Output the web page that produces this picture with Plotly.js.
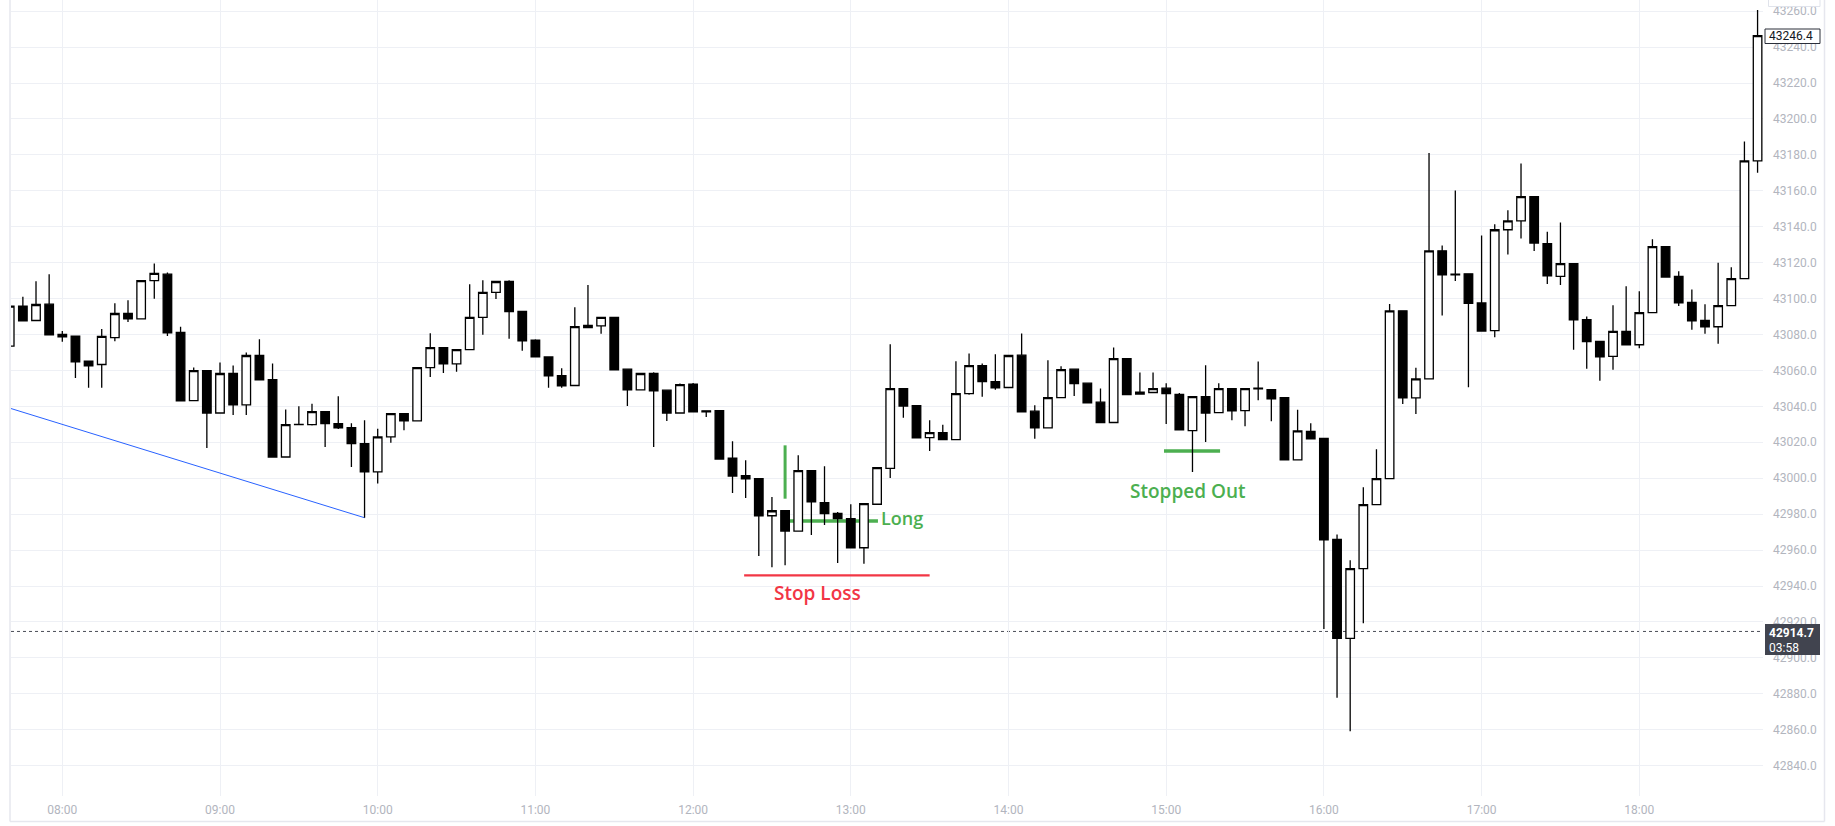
<!DOCTYPE html>
<html>
<head>
<meta charset="utf-8">
<script src="https://cdn.plot.ly/plotly-3.0.1.min.js"></script>
<style>
  html, body { margin: 0; padding: 0; background: #ffffff; }
  #chart { width: 1835px; height: 826px; }
</style>
</head>
<body>
<div id="chart"></div>
<script>
// ---- data (5-minute candles) ----
const DAY = '2024-01-15 ';
const times = [
 '07:40','07:45','07:50','07:55','08:00','08:05','08:10','08:15','08:20','08:25','08:30','08:35',
 '08:40','08:45','08:50','08:55','09:00','09:05','09:10','09:15','09:20','09:25','09:30','09:35',
 '09:40','09:45','09:50','09:55','10:00','10:05','10:10','10:15','10:20','10:25','10:30','10:35',
 '10:40','10:45','10:50','10:55','11:00','11:05','11:10','11:15','11:20','11:25','11:30','11:35',
 '11:40','11:45','11:50','11:55','12:00','12:05','12:10','12:15','12:20','12:25','12:30','12:35',
 '12:40','12:45','12:50','12:55','13:00','13:05','13:10','13:15','13:20','13:25','13:30','13:35',
 '13:40','13:45','13:50','13:55','14:00','14:05','14:10','14:15','14:20','14:25','14:30','14:35',
 '14:40','14:45','14:50','14:55','15:00','15:05','15:10','15:15','15:20','15:25','15:30','15:35',
 '15:40','15:45','15:50','15:55','16:00','16:05','16:10','16:15','16:20','16:25','16:30','16:35',
 '16:40','16:45','16:50','16:55','17:00','17:05','17:10','17:15','17:20','17:25','17:30','17:35',
 '17:40','17:45','17:50','17:55','18:00','18:05','18:10','18:15','18:20','18:25','18:30','18:35',
 '18:40','18:45'
];
const open = [
 43073.5,43095.8,43087.8,43096.9,43080.0,43079.1,43065.1,43063.3,43078.3,43091.7,43088.7,43110.0,
 43113.6,43081.1,43043.2,43059.9,43036.3,43058.3,43040.8,43068.3,43054.9,43011.8,43029.8,43029.8,
 43037.1,43030.4,43028.2,43019.3,43003.5,43023.0,43036.0,43031.9,43061.6,43072.7,43063.6,43071.6,
 43089.5,43103.4,43109.5,43092.8,43076.8,43067.5,43057.1,43051.6,43083.9,43084.8,43089.5,43060.7,
 43049.2,43058.4,43049.0,43036.3,43052.3,43037.5,43037.6,43011.1,43001.4,42999.8,42979.1,42981.9,
 42970.6,43004.2,42986.4,42980.4,42977.5,42961.3,42985.5,43005.5,43049.9,43040.4,43022.6,43025.4,
 43021.5,43047.1,43062.7,43053.8,43050.5,43068.5,43037.3,43028.0,43044.9,43060.7,43052.9,43042.3,
 43031.0,43066.6,43046.8,43047.7,43050.1,43046.7,43026.5,43045.4,43036.5,43049.9,43037.6,43050.2,
 43049.3,43044.9,43010.2,43026.0,43022.1,42965.9,42910.8,42949.7,42985.3,42999.8,43093.2,43044.7,
 43055.3,43126.6,43113.2,43113.8,43097.6,43082.1,43138.3,43143.3,43156.7,43130.6,43112.4,43119.4,
 43088.3,43076.1,43067.8,43081.7,43074.3,43092.2,43128.9,43112.4,43097.8,43087.8,43084.3,43096.1,
 43111.1,43176.7
];
const high = [
 43114.0,43101.0,43109.7,43113.6,43082.0,43079.1,43065.1,43083.0,43097.4,43099.1,43110.0,43119.5,
 43114.5,43084.3,43061.6,43059.9,43064.4,43062.7,43070.0,43077.4,43063.8,43038.2,43040.0,43041.5,
 43037.1,43045.6,43030.6,43032.3,43027.6,43036.0,43036.0,43061.6,43080.7,43072.7,43071.6,43108.0,
 43110.2,43109.5,43110.2,43092.8,43077.4,43067.5,43061.2,43095.2,43107.5,43089.5,43089.5,43060.7,
 43058.3,43059.0,43049.0,43052.7,43053.0,43037.5,43037.6,43020.6,43010.0,42999.8,42989.5,42981.9,
 43012.8,43004.2,43006.6,42981.2,42985.5,42985.8,43005.9,43074.6,43049.9,43040.4,43032.3,43029.7,
 43065.1,43069.4,43063.8,43069.0,43068.3,43080.5,43040.6,43065.7,43062.3,43061.0,43052.9,43049.9,
 43072.7,43066.6,43058.8,43058.8,43052.9,43047.5,43045.4,43062.9,43052.9,43049.9,43049.9,43065.0,
 43049.3,43044.9,43038.1,43030.6,43022.1,42968.7,42954.4,42994.9,43016.1,43097.0,43093.2,43061.5,
 43181.0,43129.6,43160.2,43113.8,43135.1,43141.3,43149.1,43175.2,43156.7,43137.2,43142.4,43119.4,
 43090.0,43076.1,43096.3,43106.8,43104.1,43133.0,43128.9,43115.2,43105.0,43096.8,43120.0,43117.4,
 43187.5,43260.7
];
const low = [
 43060.0,43087.6,43087.8,43079.8,43075.9,43055.8,43050.3,43050.3,43076.3,43087.0,43088.7,43099.9,
 43079.2,43043.0,43043.2,43016.8,43036.3,43035.2,43035.2,43054.7,43011.8,43011.8,43029.8,43029.3,
 43017.4,43027.4,43006.3,42978.0,42997.0,43019.8,43026.7,43031.9,43056.4,43058.6,43059.2,43071.6,
 43079.8,43099.7,43077.6,43070.9,43067.5,43050.3,43050.3,43051.6,43083.9,43080.4,43060.3,43040.2,
 43049.2,43017.4,43031.9,43036.3,43036.9,43034.1,43010.7,42991.8,42989.0,42956.7,42950.5,42951.5,
 42970.6,42968.4,42974.0,42952.8,42961.3,42952.4,42985.5,43000.1,43033.6,43022.4,43015.2,43021.5,
 43021.5,43046.4,43045.3,43049.2,43050.5,43036.9,43021.9,43028.0,43044.9,43045.8,43041.9,43031.0,
 43031.0,43046.6,43046.8,43047.7,43030.2,43026.9,43003.5,43020.2,43036.5,43032.3,43028.9,43043.4,
 43031.7,43010.2,43010.2,43021.9,42916.1,42877.8,42859.1,42919.3,42985.3,42999.8,43041.3,43035.7,
 43055.3,43090.6,43109.8,43050.6,43081.9,43078.5,43124.6,43133.5,43126.5,43108.1,43107.6,43071.5,
 43060.9,43054.3,43060.4,43074.3,43072.4,43092.2,43112.0,43095.9,43082.6,43080.4,43074.8,43096.1,
 43111.1,43170.0
];
const close = [
 43095.8,43087.6,43096.7,43079.8,43078.7,43064.8,43062.5,43078.9,43091.7,43088.7,43110.0,43114.0,
 43080.9,43043.0,43059.9,43036.3,43058.3,43040.8,43068.3,43054.7,43011.8,43029.8,43030.0,43037.1,
 43030.4,43028.0,43019.3,43003.5,43023.0,43036.0,43031.9,43061.6,43072.7,43063.6,43071.6,43089.5,
 43103.4,43109.5,43092.8,43076.5,43067.5,43057.0,43051.4,43084.4,43085.0,43089.5,43060.3,43049.2,
 43058.3,43048.6,43036.3,43052.1,43036.9,43037.0,43010.7,43001.2,42999.6,42979.0,42981.9,42970.6,
 43004.2,42986.8,42980.3,42977.5,42961.3,42985.8,43005.9,43049.9,43040.2,43022.4,43025.4,43021.5,
 43047.1,43062.7,43053.8,43050.3,43068.3,43036.9,43028.0,43044.9,43060.5,43052.7,43041.9,43031.0,
 43066.6,43046.6,43047.9,43049.9,43047.1,43026.9,43045.4,43036.3,43049.9,43037.5,43049.9,43049.8,
 43044.2,43010.2,43026.4,43021.9,42965.7,42910.8,42949.7,42985.3,42999.8,43093.2,43044.7,43055.3,
 43126.6,43113.2,43113.6,43097.4,43081.9,43138.3,43143.3,43156.7,43130.9,43112.6,43119.4,43088.1,
 43076.1,43067.6,43081.7,43074.3,43092.2,43128.9,43112.0,43097.6,43087.6,43084.3,43096.1,43111.1,
 43176.7,43246.4
];

// drawings (time, price)
const trendLine   = { t: ['07:40', '09:55'], p: [43039.0, 42978.0] };
const entryTick   = { t: '12:35', p: [42988.6, 43018.3] };
const longLine    = { t: ['12:36:50', '13:10:20'], p: 42976.2 };
const stopLine    = { t: ['12:19:25', '13:30:00'], p: 42945.9 };
const stoppedLine = { t: ['14:59:10', '15:20:30'], p: 43015.2 };
const labels = [
  { text: 'Long',        t: '13:10:40', p: 42977.7, anchor: 'left',   size: 18, color: 'green' },
  { text: 'Stop Loss',   t: '12:47:30', p: 42935.9, anchor: 'center', size: 19, color: 'red' },
  { text: 'Stopped Out', t: '15:07:55', p: 42992.9, anchor: 'center', size: 19, color: 'green' }
];
const markPrice = 42914.7;
const markTimer = '03:58';
const lastPrice = 43246.4;

// ---- chart ----
const T = s => DAY + s;
const COLORS = { green: '#4caf50', red: '#f23645' };
const W = 1835, H = 826, ML = 11, MR = 72, MT = 0, MB = 30;
const PW = W - ML - MR, PH = H - MT - MB;
const px = x => (x - ML) / PW;         // pixel -> paper x
const py = y => (H - MB - y) / PH;      // pixel -> paper y

const trace = {
  type: 'candlestick',
  x: times.map(T), open: open, high: high, low: low, close: close,
  increasing: { line: { color: '#000000', width: 1.3 }, fillcolor: '#ffffff' },
  decreasing: { line: { color: '#000000', width: 1.3 }, fillcolor: '#000000' },
  whiskerwidth: 0,
  hoverinfo: 'skip',
  showlegend: false
};

const shapes = [
  { type: 'line', xref: 'x', yref: 'y', layer: 'between',
    x0: T(trendLine.t[0]), x1: T(trendLine.t[1]), y0: trendLine.p[0], y1: trendLine.p[1],
    line: { color: '#2962ff', width: 1 } },
  { type: 'line', xref: 'x', yref: 'y', layer: 'between',
    x0: T(entryTick.t), x1: T(entryTick.t), y0: entryTick.p[0], y1: entryTick.p[1],
    line: { color: COLORS.green, width: 3 } },
  { type: 'line', xref: 'x', yref: 'y', layer: 'between',
    x0: T(longLine.t[0]), x1: T(longLine.t[1]), y0: longLine.p, y1: longLine.p,
    line: { color: COLORS.green, width: 3.5 } },
  { type: 'line', xref: 'x', yref: 'y', layer: 'between',
    x0: T(stopLine.t[0]), x1: T(stopLine.t[1]), y0: stopLine.p, y1: stopLine.p,
    line: { color: COLORS.red, width: 2.2 } },
  { type: 'line', xref: 'x', yref: 'y', layer: 'between',
    x0: T(stoppedLine.t[0]), x1: T(stoppedLine.t[1]), y0: stoppedLine.p, y1: stoppedLine.p,
    line: { color: COLORS.green, width: 3.5 } },
  { type: 'line', xref: 'paper', yref: 'y', layer: 'between',
    x0: 0, x1: 1, y0: markPrice, y1: markPrice,
    line: { color: '#4a4d57', width: 1, dash: 'dot' } },
  // frame
  { type: 'line', xref: 'paper', yref: 'paper', layer: 'above',
    x0: px(10), x1: px(10), y0: py(-2), y1: py(821.5), line: { color: '#e6e7ee', width: 1.5 } },
  { type: 'line', xref: 'paper', yref: 'paper', layer: 'above',
    x0: px(10), x1: px(1824.5), y0: py(821.5), y1: py(821.5), line: { color: '#e6e7ee', width: 1.5 } },
  { type: 'line', xref: 'paper', yref: 'paper', layer: 'above',
    x0: px(1824.5), x1: px(1824.5), y0: py(-2), y1: py(821.5), line: { color: '#e6e7ee', width: 1.5 } },
  // price-axis labels
  { type: 'rect', xref: 'paper', yref: 'paper', layer: 'above',
    x0: px(1768.5), x1: px(1820), y0: py(-3), y1: py(6.5),
    fillcolor: '#ffffff', line: { color: '#e0e3eb', width: 1 } },
  { type: 'rect', xref: 'paper', yref: 'paper', layer: 'above',
    x0: px(1765), x1: px(1820), y0: py(29), y1: py(43.5),
    fillcolor: '#ffffff', line: { color: '#2a2e39', width: 1 } },
  { type: 'rect', xref: 'paper', yref: 'paper', layer: 'above',
    x0: px(1765), x1: px(1820), y0: py(624), y1: py(655),
    fillcolor: '#41444f', line: { color: '#41444f', width: 0 } }
];

const annotations = labels.map(l => ({
  xref: 'x', yref: 'y', x: T(l.t), y: l.p, text: l.text, showarrow: false,
  xanchor: l.anchor, yanchor: 'middle',
  font: { family: 'Open Sans, sans-serif', size: l.size, weight: 600, color: COLORS[l.color] }
})).concat([
  { xref: 'paper', yref: 'paper', x: px(1767.5), y: py(36.3), xanchor: 'left', yanchor: 'middle',
    text: lastPrice.toFixed(1), showarrow: false,
    font: { family: 'Roboto, sans-serif', size: 12, color: '#131722' } },
  { xref: 'paper', yref: 'paper', x: px(1766.5), y: py(632.5), xanchor: 'left', yanchor: 'middle',
    text: '<b>' + markPrice.toFixed(1) + '</b>', showarrow: false,
    font: { family: 'Roboto, sans-serif', size: 12, color: '#ffffff' } },
  { xref: 'paper', yref: 'paper', x: px(1766.5), y: py(647.5), xanchor: 'left', yanchor: 'middle',
    text: markTimer, showarrow: false,
    font: { family: 'Roboto, sans-serif', size: 12, color: '#ffffff' } }
]);

const tickFont = { family: 'Roboto, sans-serif', size: 12, color: '#b2b5be' };

const layout = {
  width: W, height: H,
  margin: { l: ML, r: MR, t: MT, b: MB, pad: 0 },
  paper_bgcolor: '#ffffff', plot_bgcolor: '#ffffff',
  showlegend: false,
  boxgap: 0.35, boxgroupgap: 0,
  xaxis: {
    type: 'date',
    range: [T('07:40:29'), T('18:47:04')],
    tick0: T('08:00'), dtick: 3600000, tickformat: '%H:%M',
    showgrid: true, gridcolor: '#eef0f5', gridwidth: 1,
    zeroline: false, showline: false, ticks: '', ticklabelstandoff: 5,
    tickfont: tickFont,
    rangeslider: { visible: false },
    fixedrange: true
  },
  yaxis: {
    side: 'right',
    range: [42823.1, 43266.2],
    tick0: 0, dtick: 20, tickformat: '.1f',
    showgrid: true, gridcolor: '#eef0f5', gridwidth: 1,
    zeroline: false, showline: false, ticks: '', ticklabelstandoff: 9,
    tickfont: tickFont,
    fixedrange: true
  },
  shapes: shapes,
  annotations: annotations
};

Plotly.newPlot('chart', [trace], layout, { displayModeBar: false, staticPlot: true });
</script>
</body>
</html>
